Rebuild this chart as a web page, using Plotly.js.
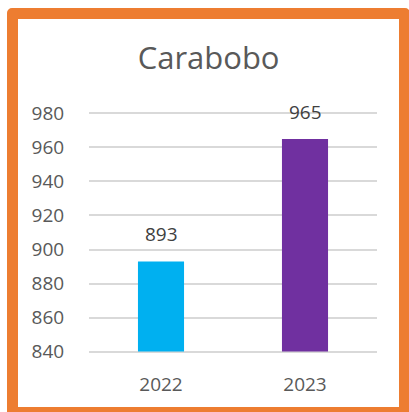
<!DOCTYPE html>
<html>
<head>
<meta charset="utf-8">
<script src="https://cdn.plot.ly/plotly-3.0.1.min.js"></script>
<style>
html,body{margin:0;padding:0;width:409px;height:412px;overflow:hidden;background:#fff;}
#frame{position:absolute;left:7px;top:8px;width:381px;height:388px;border:11px solid #ED7D31;border-radius:5px;background:#fff;}
#chart{position:absolute;left:0;top:0;width:409px;height:412px;}
</style>
</head>
<body>
<div id="frame"></div>
<div id="chart"></div>
<script>
const categories = ["2022", "2023"];
const values = [893, 965];
const barColors = ["#00B0F0", "#7030A0"];
const yTicks = [840, 860, 880, 900, 920, 940, 960, 980];
const axisMin = 840;
const chartTitle = "Carabobo";

const fontFam = "Open Sans, Noto Sans, sans-serif";
const trace = {
  type: "bar",
  x: categories,
  base: axisMin,
  y: values.map(v => v - axisMin),
  marker: {color: barColors},
  hoverinfo: "none"
};

// annotation x given as category index on the category axis
const annotations = categories.map((c, i) => ({
  x: i, y: values[i], xref: "x", yref: "y",
  text: String(values[i]), showarrow: false,
  yanchor: "bottom", yshift: 12,
  font: {family: fontFam, size: 19, color: "#404040"}
}));

const layout = {
  width: 409, height: 412,
  margin: {l: 89, r: 32, t: 110, b: 57},
  paper_bgcolor: "rgba(0,0,0,0)",
  plot_bgcolor: "rgba(0,0,0,0)",
  showlegend: false,
  bargap: 0.68,
  title: {text: chartTitle, x: 0.51, xanchor: "center", y: 0.86, yanchor: "middle",
          font: {family: fontFam, size: 31, color: "#595959"}},
  xaxis: {type: "category", range: [-0.5, categories.length - 0.5],
          showgrid: false, zeroline: false, showline: false,
          ticks: "outside", ticklen: 12, tickcolor: "rgba(0,0,0,0)",
          tickfont: {family: fontFam, size: 19, color: "#595959"}},
  yaxis: {range: [838, 982], tickvals: yTicks,
          showgrid: true, gridcolor: "#D9D9D9", gridwidth: 1.5,
          zeroline: false, showline: false,
          ticks: "outside", ticklen: 20, tickcolor: "rgba(0,0,0,0)",
          tickfont: {family: fontFam, size: 19, color: "#595959"}},
  annotations: annotations
};
Plotly.newPlot("chart", [trace], layout, {displayModeBar: false});
</script>
</body>
</html>
